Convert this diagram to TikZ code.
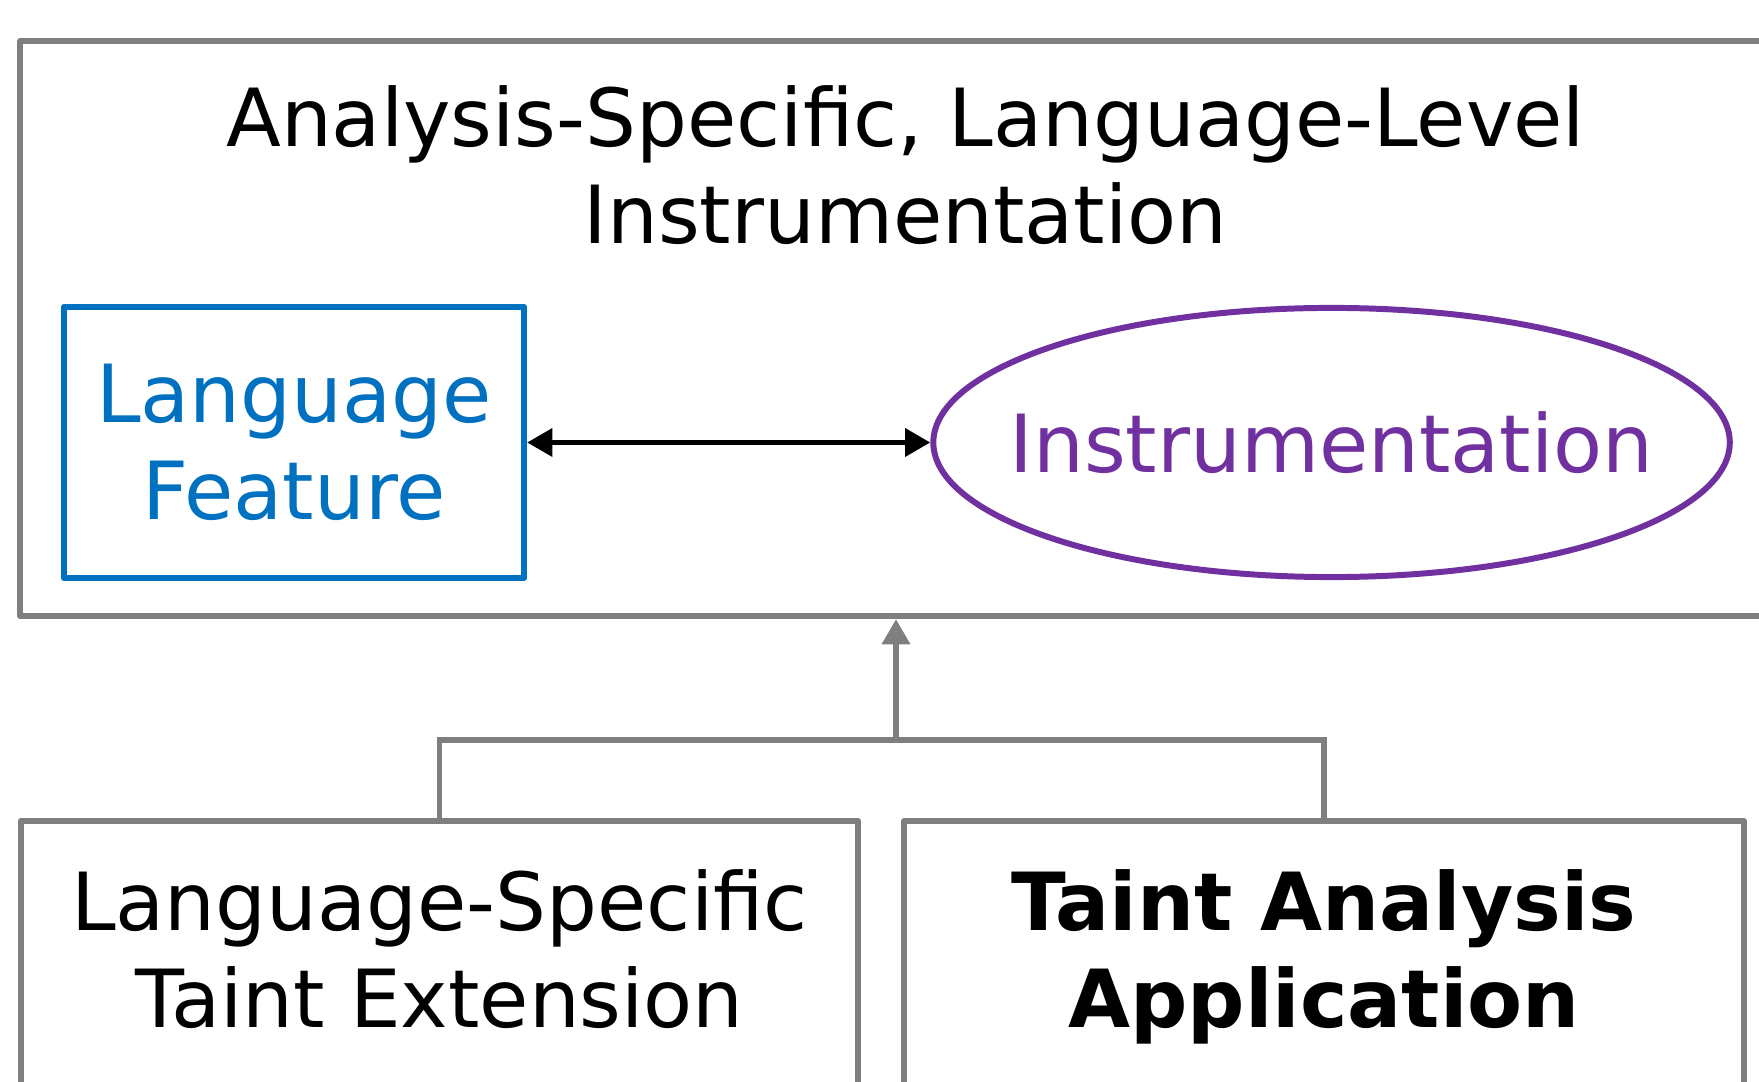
\documentclass[tikz,border=0pt]{standalone}
\usepackage{fontspec}
\setmainfont{DejaVu Sans}
\usepackage{tikz}
\usetikzlibrary{positioning, arrows.meta, shapes.geometric}

\definecolor{boxgray}{HTML}{7F7F7F}
\definecolor{featblue}{HTML}{0070C0}
\definecolor{instpurple}{HTML}{7030A0}

\begin{document}
\begin{tikzpicture}[x=0.01cm, y=-0.01cm, node distance=1cm,
  txt/.style={font=\fontsize{22.8}{27.5}\selectfont, align=center, inner sep=0pt},
  layerbox/.style={rectangle, draw=boxgray, line width=1.7pt, line join=round, inner sep=0pt},
  featurebox/.style={rectangle, draw=featblue, text=featblue, line width=1.7pt, line join=round},
  instbox/.style={ellipse, draw=instpurple, text=instpurple, line width=1.7pt, inner xsep=-0.41cm},
  grayline/.style={draw=boxgray, line width=1.7pt},
  grayarrow/.style={grayline, -{Triangle[length=7.2pt, width=7.8pt]}},
  biarrow/.style={line width=1.6pt, {Triangle[length=7.2pt, width=7.8pt]}-{Triangle[length=7.2pt, width=7.8pt]}}]

  \useasboundingbox (0,0) rectangle (1759,1082);

  % upper layer
  \node (layer) [layerbox, minimum width=17.69cm, minimum height=5.75cm] at (905.5,328.5) {};
  \node (title) [txt, below=0.47cm of layer.north] {Analysis-Specific, Language-Level\\Instrumentation};
  \node (feature) [txt, featurebox, minimum width=4.6cm, minimum height=2.71cm] at (294,442.5) {Language\\Feature};
  \node (instr) [txt, instbox, minimum width=7.96cm, minimum height=2.69cm, right=4.03cm of feature] {Instrumentation};

  \draw [biarrow] (feature) -- (instr);

  % lower boxes
  \node (ext) [layerbox, minimum width=8.37cm, minimum height=3cm, anchor=north] at (439.5,818) {};
  \node (app) [layerbox, minimum width=8.39cm, minimum height=3cm, right=0.40cm of ext] {};
  \node (extname) [txt, below=0.51cm of ext.north] {Language-Specific\\Taint Extension};
  \node (appname) [txt, font=\fontsize{22.8}{27.5}\selectfont\bfseries, below=0.51cm of app.north] {Taint Analysis\\Application};

  \coordinate (join) at (896,740);
  \draw [grayline] (ext.north) |- (join) -| (app.north);
  \draw [grayarrow] (join) -- (join |- layer.south);
\end{tikzpicture}
\end{document}
